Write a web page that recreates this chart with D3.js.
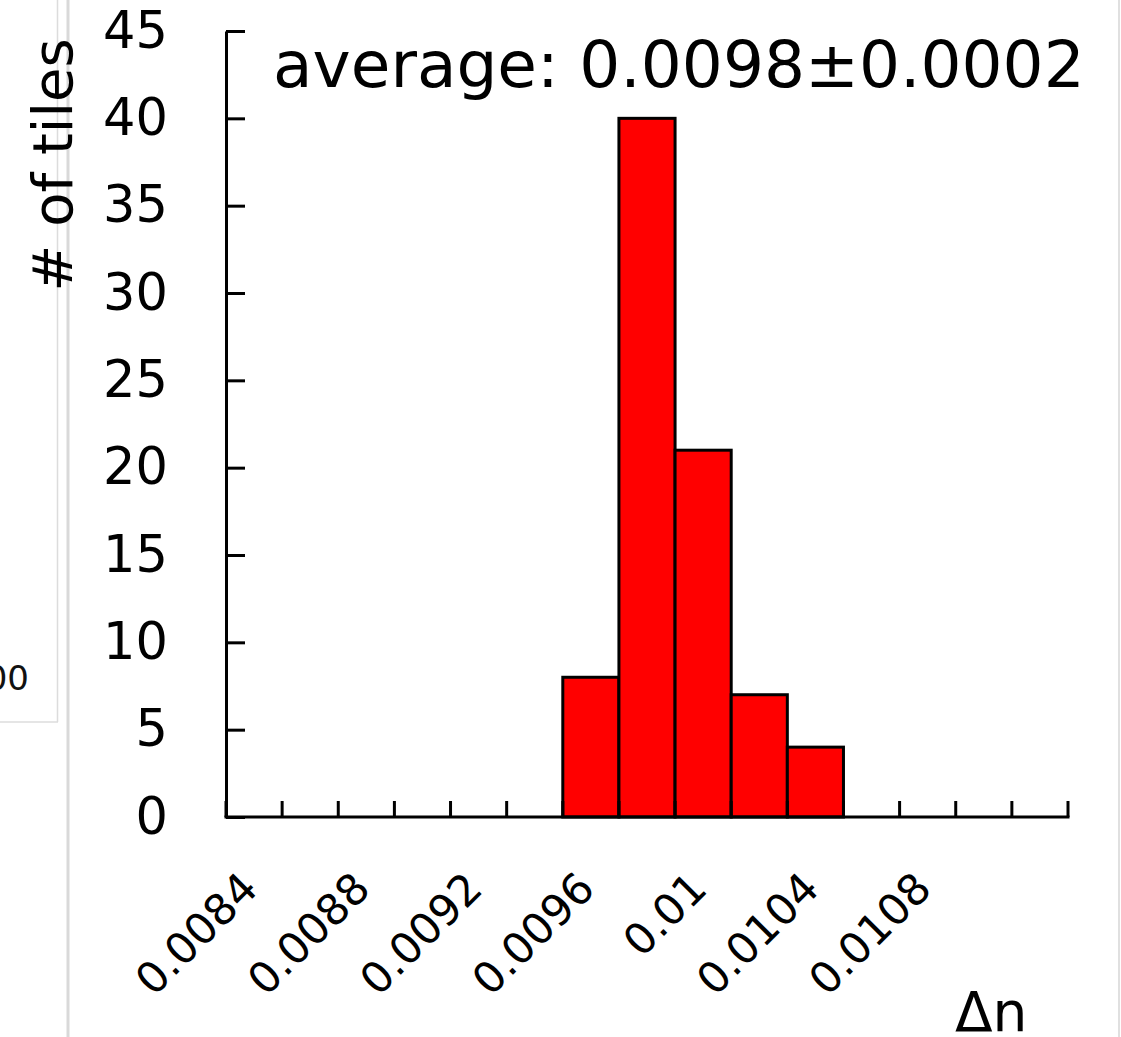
<!DOCTYPE html>
<html>
<head>
<meta charset="utf-8">
<script src="https://cdn.jsdelivr.net/npm/d3@7"></script>
<style>
  html, body { margin: 0; padding: 0; background: #fff; }
  svg { display: block; font-family: "DejaVu Sans", Verdana, sans-serif; }
</style>
</head>
<body>
<svg id="chart" width="1121" height="1037"></svg>
<script>
// ---- data ----
const binStarts = ["0.0084","0.0086","0.0088","0.009","0.0092","0.0094","0.0096","0.0098","0.01","0.0102","0.0104","0.0106","0.0108","0.011","0.0112"];
const counts    = [0, 0, 0, 0, 0, 0, 8, 40, 21, 7, 4, 0, 0, 0, 0];
const xTickLabels = ["0.0084","0.0088","0.0092","0.0096","0.01","0.0104","0.0108"];
const yTicks = [0, 5, 10, 15, 20, 25, 30, 35, 40, 45];
const titleText = "average: 0.0098\u00B10.0002";
const yTitle = "# of tiles";
const xTitle = "\u0394n";

const svg = d3.select("#chart");

// ---- panel fragments (neighbouring panel borders) ----
svg.append("line").attr("x1",57.5).attr("x2",57.5).attr("y1",0).attr("y2",722)
  .attr("stroke","#dcdcdc").attr("stroke-width",1.5);
svg.append("line").attr("x1",0).attr("x2",58).attr("y1",722).attr("y2",722)
  .attr("stroke","#dcdcdc").attr("stroke-width",1.5);
svg.append("line").attr("x1",68).attr("x2",68).attr("y1",0).attr("y2",1037)
  .attr("stroke","#d9d9d9").attr("stroke-width",3);
svg.append("line").attr("x1",1119).attr("x2",1119).attr("y1",0).attr("y2",1037)
  .attr("stroke","#e0e0e0").attr("stroke-width",2);
svg.append("text").attr("x",29).attr("y",690).attr("text-anchor","end")
  .attr("font-size",34).attr("fill","#111").text("00");

// ---- scales ----
const x = d3.scaleBand().domain(binStarts).range([226, 1068]).padding(0);
const y = d3.scaleLinear().domain([0, 45]).range([817, 31]);

// ---- bars ----
svg.append("g").selectAll("rect")
  .data(binStarts.map((b, i) => ({ bin: b, n: counts[i] })).filter(d => d.n > 0))
  .join("rect")
  .attr("x", d => x(d.bin))
  .attr("y", d => y(d.n))
  .attr("width", x.bandwidth())
  .attr("height", d => y(0) - y(d.n))
  .attr("fill", "#ff0000")
  .attr("stroke", "#000")
  .attr("stroke-width", 3);

// ---- y axis ----
const yAxis = d3.axisLeft(y).tickValues(yTicks).tickSizeInner(-19).tickSizeOuter(0).tickPadding(58);
const gy = svg.append("g").attr("transform", "translate(226,0)").call(yAxis);
gy.select(".domain").attr("stroke", "#000").attr("stroke-width", 3);
gy.selectAll(".tick line").attr("stroke", "#000").attr("stroke-width", 3);
gy.selectAll(".tick text").attr("font-size", 51).attr("fill", "#000")
  .attr("font-family", "DejaVu Sans, Verdana, sans-serif");

// ---- x axis ----
const boundaries = binStarts.map(b => x(b)).concat([x.range()[1]]);
svg.append("line").attr("x1", x.range()[0] - 1.5).attr("x2", x.range()[1] + 1.5)
  .attr("y1", y(0)).attr("y2", y(0)).attr("stroke", "#000").attr("stroke-width", 3);
svg.append("g").selectAll("line").data(boundaries).join("line")
  .attr("x1", d => d).attr("x2", d => d)
  .attr("y1", y(0)).attr("y2", y(0) - 16)
  .attr("stroke", "#000").attr("stroke-width", 3);

svg.append("g").selectAll("text").data(xTickLabels).join("text")
  .attr("transform", d => `translate(${x(d) + x.bandwidth() / 2 + 6},891) rotate(-45)`)
  .attr("text-anchor", "end")
  .attr("font-size", 43)
  .attr("fill", "#000")
  .text(d => d);

// ---- titles ----
svg.append("text").attr("x", 273).attr("y", 87).attr("font-size", 64.5).attr("fill", "#000")
  .text(titleText);
svg.append("text").attr("transform", "translate(72,165) rotate(-90)")
  .attr("text-anchor", "middle").attr("font-size", 56).attr("fill", "#000").text(yTitle);
svg.append("text").attr("x", 955).attr("y", 1031).attr("font-size", 55).attr("fill", "#000")
  .text(xTitle);
</script>
</body>
</html>
